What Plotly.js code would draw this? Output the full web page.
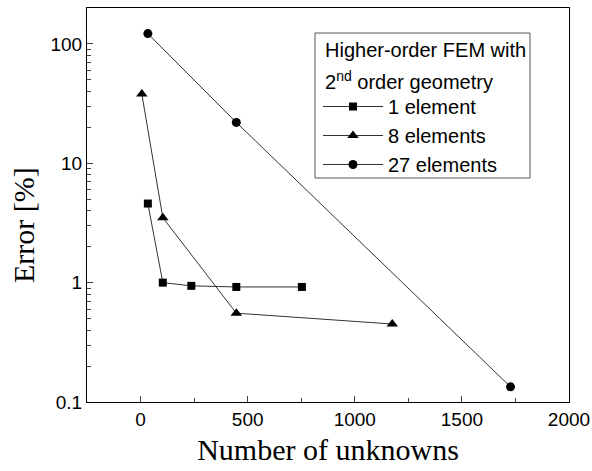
<!DOCTYPE html>
<html>
<head>
<meta charset="utf-8">
<script src="https://cdn.plot.ly/plotly-3.0.1.min.js"></script>
<style>html,body{margin:0;padding:0;background:#fff;}#chart{width:592px;height:471px;}</style>
</head>
<body>
<div id="chart"></div>
<script>
// Data
const seriesNames = ["1 element", "8 elements", "27 elements"];
const oneElemX = [34, 104, 237, 447, 753];
const oneElemY = [4.6, 1.0, 0.94, 0.92, 0.92];
const eightElemX = [6, 104, 447, 1175];
const eightElemY = [38, 3.5, 0.555, 0.45];
const twentySevenElemX = [34, 447, 1727];
const twentySevenElemY = [122, 22, 0.134];
const yTickVals = [0.1, 1, 10, 100];
const yTickText = ["0.1", "1", "10", "100"];
const xTickVals = [0, 500, 1000, 1500, 2000];
const legendHeader = ["Higher-order FEM with", "2<sup>nd</sup> order geometry"];

const lineStyle = {color: '#333', width: 1};
const mk = (sym, size) => ({symbol: sym, size: size, color: '#000'});

const traces = [
  {x: oneElemX, y: oneElemY, name: seriesNames[0], mode: 'lines+markers', line: lineStyle, marker: mk('square', 8)},
  {x: eightElemX, y: eightElemY, name: seriesNames[1], mode: 'lines+markers', line: lineStyle, marker: mk('triangle-up', 10)},
  {x: twentySevenElemX, y: twentySevenElemY, name: seriesNames[2], mode: 'lines+markers', line: lineStyle, marker: mk('circle', 9)}
];

const SANS = '"Liberation Sans", Arial, sans-serif';
const SERIF = '"Liberation Serif", "Times New Roman", serif';
const tickFont = {family: SANS, size: 19, color: '#000'};

// plot area in pixels: left 87, right 569, top 8, bottom 402
const PL = 87, PW = 482, PT = 8, PH = 394;
const px = v => (v - PL) / PW;
const py = v => (PT + PH - v) / PH;

const layout = {
  width: 592, height: 471,
  margin: {l: 87, r: 23, t: 8, b: 69},
  paper_bgcolor: '#fff', plot_bgcolor: '#fff',
  showlegend: true,
  xaxis: {
    range: [-250, 2000], tickvals: xTickVals, ticks: 'inside', ticklen: 6, tickwidth: 1,
    showline: true, linecolor: '#000', linewidth: 1, mirror: true, showgrid: false, zeroline: false,
    tickfont: tickFont,
    minor: {ticks: 'inside', ticklen: 4, dtick: 250, tick0: 0, showgrid: false},
    title: {text: 'Number of unknowns', font: {family: SERIF, size: 30, color: '#000'}, standoff: 10}
  },
  yaxis: {
    type: 'log', range: [-1, 2.301], tickvals: yTickVals, ticktext: yTickText,
    ticks: 'inside', ticklen: 6, tickwidth: 1,
    showline: true, linecolor: '#000', linewidth: 1, mirror: true, showgrid: false, zeroline: false,
    tickfont: tickFont,
    minor: {ticks: 'inside', ticklen: 4, dtick: 'D1', showgrid: false}
  },
  shapes: [
    {type: 'rect', xref: 'paper', yref: 'paper', x0: px(315), x1: px(530), y0: py(178), y1: py(33),
     line: {color: '#555', width: 1}, fillcolor: '#fff', layer: 'above'}
  ],
  annotations: [
    {text: 'Error [%]', textangle: -90, xref: 'paper', yref: 'paper', x: px(24), y: py(225),
     xanchor: 'center', yanchor: 'middle', showarrow: false,
     font: {family: SERIF, size: 30, color: '#000'}},
    {text: legendHeader[0], xref: 'paper', yref: 'paper', x: px(323), y: py(50),
     xanchor: 'left', yanchor: 'middle', showarrow: false,
     font: {family: SANS, size: 20, color: '#000'}},
    {text: legendHeader[1], xref: 'paper', yref: 'paper', x: px(323), y: py(81),
     xanchor: 'left', yanchor: 'middle', showarrow: false,
     font: {family: SANS, size: 20, color: '#000'}}
  ],
  legend: {
    x: px(318), y: py(87), xanchor: 'left', yanchor: 'top',
    bgcolor: 'rgba(0,0,0,0)', borderwidth: 0,
    font: {family: SANS, size: 20, color: '#000'},
    itemwidth: 60, tracegroupgap: 0
  }
};

Plotly.newPlot('chart', traces, layout, {displayModeBar: false, staticPlot: true});
</script>
</body>
</html>
